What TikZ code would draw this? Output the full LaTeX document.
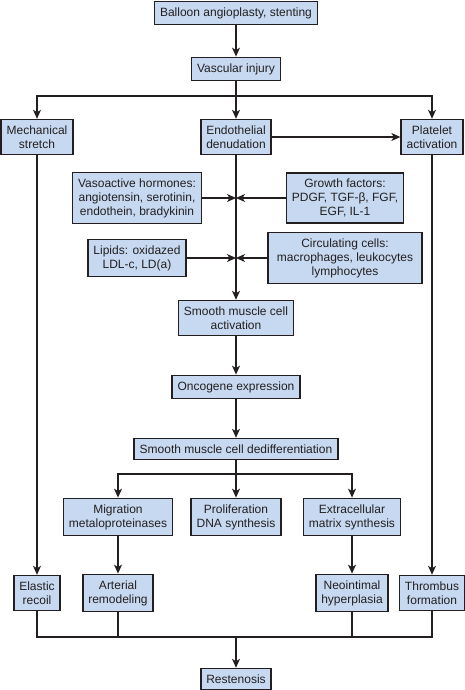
\documentclass[tikz,border=0pt]{standalone}
\usepackage{fontspec}
\setmainfont{Liberation Sans}
\usepackage{tikz}
\usetikzlibrary{arrows.meta, positioning}

\definecolor{boxblue}{HTML}{C6D9F1}
\definecolor{inkgray}{HTML}{231F20}

\begin{document}
\begin{tikzpicture}[
    x=1pt, y=-1pt,
    box/.style={draw=inkgray, fill=boxblue, line width=1.6pt, align=center,
      inner xsep=5.5pt, inner ysep=6pt, font=\fontsize{12}{14}\selectfont, text=inkgray},
    link/.style={draw=inkgray, line width=1.1pt},
    arr/.style={link, -{Stealth[length=9pt, width=8pt, inset=2.5pt]}},
]
  \useasboundingbox (0,0) rectangle (465,690);

  % Top chain
  \node[box] (balloon) at (236,13) {Balloon angioplasty, stenting};
  \node[box] (injury) at (236,69) {Vascular injury};
  \node[box] (stretch) at (37,137) {Mechanical\\stretch};
  \node[box] (denud) at (236,137) {Endothelial\\denudation};
  \node[box] (platelet) at (432,137) {Platelet\\activation};

  \coordinate (split1) at (236,96);
  \draw[arr] (balloon) -- (injury);
  \draw[arr] (injury) -- (denud);
  \draw[arr] (split1) -| (stretch.north);
  \draw[arr] (split1) -| (platelet.north);
  \draw[arr] (denud) -- (platelet);

  % Mediators feeding the central line
  \node[box] (vaso) at (137,198) {Vasoactive hormones:\\angiotensin, serotinin,\\endothein, bradykinin};
  \node[box, minimum width=117pt] (growth) at (345,198) {Growth factors:\\PDGF, TGF-β, FGF,\\EGF, IL-1};
  \node[box] (lipids) at (137,258) {Lipids: oxidazed\\LDL-c, LD(a)};
  \node[box, minimum width=154pt] (circ) at (345,258) {Circulating cells:\\macrophages, leukocytes\\lymphocytes};
  \node[box] (smcact) at (236,318) {Smooth muscle cell\\activation};

  \coordinate (join1) at (236,198);
  \coordinate (join2) at (236,258);
  \draw[arr] (denud) -- (smcact);
  \draw[arr] (vaso) -- (join1);
  \draw[arr] (growth) -- (join1);
  \draw[arr] (lipids) -- (join2);
  \draw[arr] (circ) -- (join2);

  % Smooth muscle cell response
  \node[box] (onco) at (236,387) {Oncogene expression};
  \node[box] (dediff) at (236,449) {Smooth muscle cell dedifferentiation};
  \node[box] (migr) at (118,517) {Migration\\metaloproteinases};
  \node[box] (prolif) at (236,517) {Proliferation\\DNA synthesis};
  \node[box] (matrix) at (352,517) {Extracellular\\matrix synthesis};

  \coordinate (split2) at (236,474);
  \draw[arr] (smcact) -- (onco);
  \draw[arr] (onco) -- (dediff);
  \draw[arr] (dediff) -- (prolif);
  \draw[arr] (split2) -| (migr.north);
  \draw[arr] (split2) -| (matrix.north);

  % Outcomes
  \node[box] (recoil) at (37,593) {Elastic\\recoil};
  \node[box] (remodel) at (118,593) {Arterial\\remodeling};
  \node[box] (neoint) at (352,593) {Neointimal\\hyperplasia};
  \node[box] (thromb) at (432,593) {Thrombus\\formation};
  \node[box] (resten) at (236,679) {Restenosis};

  \draw[arr] (stretch) -- (recoil);
  \draw[arr] (migr) -- (remodel);
  \draw[arr] (matrix) -- (neoint);
  \draw[arr] (platelet) -- (thromb);

  \coordinate (join3) at (236,637);
  \draw[link] (recoil.south) |- (join3);
  \draw[link] (remodel.south) |- (join3);
  \draw[link] (neoint.south) |- (join3);
  \draw[link] (thromb.south) |- (join3);
  \draw[arr] (join3) -- (resten);
\end{tikzpicture}
\end{document}
